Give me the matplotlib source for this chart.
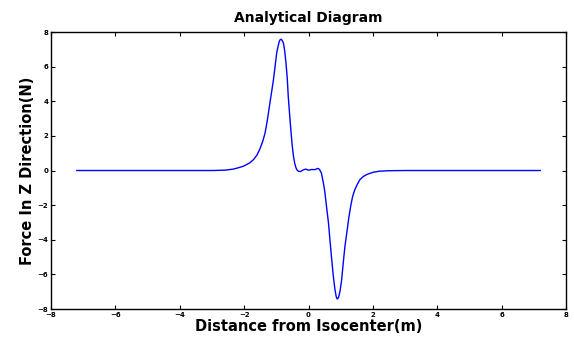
import matplotlib.pyplot as plt
import numpy as np

# values
distance = [-7.2, -3.0, -2.8, -2.6, -2.34, -2.2, -2.02, -1.82, -1.71, -1.6,
            -1.51, -1.42, -1.35, -1.28, -1.2, -1.15, -1.09, -1.04, -0.99,
            -0.95, -0.91, -0.88, -0.85, -0.82, -0.78, -0.74, -0.7, -0.66,
            -0.63, -0.59, -0.55, -0.51, -0.47, -0.43, -0.39, -0.36, -0.32,
            -0.25, -0.16, -0.08, 0.0, 0.1, 0.2, 0.28, 0.32, 0.36, 0.4, 0.43,
            0.47, 0.51, 0.56, 0.62, 0.67, 0.72, 0.77, 0.82, 0.86, 0.89, 0.93,
            0.98, 1.03, 1.08, 1.13, 1.19, 1.25, 1.31, 1.37, 1.44, 1.52, 1.6,
            1.7, 1.81, 2.01, 2.2, 2.5, 3.0, 7.2]
force = [0.0, 0.0, 0.01, 0.02, 0.08, 0.15, 0.25, 0.45, 0.63, 0.9,
         1.25, 1.7, 2.17, 2.9, 3.9, 4.5, 5.24, 6.0, 6.78,
         7.15, 7.45, 7.56, 7.58, 7.52, 7.36, 6.9, 6.2, 5.3,
         4.28, 3.3, 2.36, 1.5, 0.85, 0.42, 0.16, 0.04, -0.04,
         -0.06, 0.04, 0.08, 0.02, 0.06, 0.05, 0.12, 0.1, 0.0, -0.15, -0.42,
         -0.8, -1.29, -2.1, -3.02, -4.1, -5.13, -6.1, -6.86, -7.28, -7.42, -7.35,
         -6.96, -6.3, -5.32, -4.4, -3.59, -2.75, -2.06, -1.5, -1.1, -0.78, -0.52,
         -0.35, -0.23, -0.1, -0.04, -0.01, 0.0, 0.0]
xticks = [-8, -6, -4, -2, 0, 2, 4, 6, 8]
yticks = [-8, -6, -4, -2, 0, 2, 4, 6, 8]

fig = plt.figure(figsize=(5.74, 3.37), dpi=100)
ax = fig.add_axes([0.089, 0.083, 0.897, 0.822])
ax.plot(distance, force, color='#0000ff', linewidth=1.0)
ax.set_xlim(-8, 8)
ax.set_ylim(-8, 8)
ax.set_xticks(xticks)
ax.set_yticks(yticks)
ax.tick_params(direction='in', top=True, right=True, length=3, width=0.8,
               labelsize=5, pad=2)
for lab in ax.get_xticklabels() + ax.get_yticklabels():
    lab.set_fontweight('bold')
for sp in ax.spines.values():
    sp.set_linewidth(1.0)
ax.set_title("Analytical Diagram", fontsize=10, fontweight='bold', pad=7)
ax.set_xlabel("Distance from Isocenter(m)", fontsize=10.5, fontweight='bold',
              labelpad=1)
ax.set_ylabel("Force In Z Direction(N)", fontsize=10.5, fontweight='bold',
              labelpad=2)
fig.savefig("out.png", dpi=100)
